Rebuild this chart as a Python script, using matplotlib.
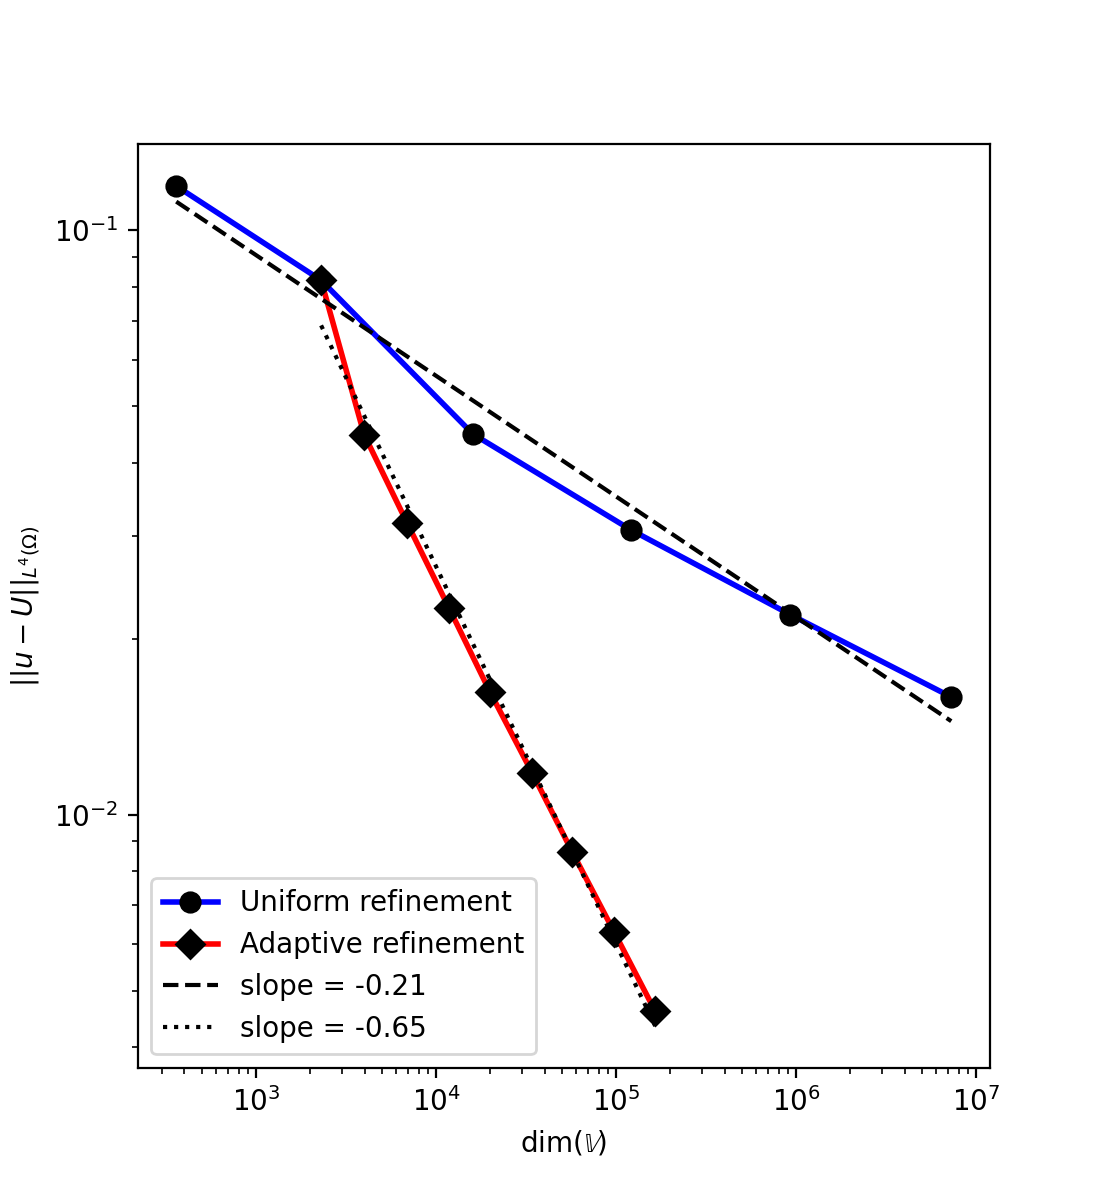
import numpy as np
import matplotlib

matplotlib.use("Agg")
import matplotlib.pyplot as plt

# degrees of freedom and L4 error
dofs_uniform = [360, 2296, 16000, 121000, 926000, 7270000]
err_uniform = [0.119, 0.0821, 0.0448, 0.0307, 0.0220, 0.0159]

dofs_adaptive = [2296, 3981, 6900, 11800, 19950, 34100, 57000, 97500, 164800]
err_adaptive = [0.0821, 0.0447, 0.03155, 0.02256, 0.0162, 0.0118, 0.00864, 0.0063, 0.00461]


def loglog_fit(x, y):
    # least squares line in log-log space
    p = np.polyfit(np.log10(x), np.log10(y), 1)
    return p[0], 10 ** np.polyval(p, np.log10(x))


slope_u, fit_u = loglog_fit(dofs_uniform, err_uniform)
slope_a, fit_a = loglog_fit(dofs_adaptive, err_adaptive)

fig, ax = plt.subplots(figsize=(5.5, 6), dpi=200)
ax.loglog(dofs_uniform, err_uniform, "-o", color="blue", mfc="black", mec="black",
          linewidth=2, markersize=7, label="Uniform refinement")
ax.loglog(dofs_adaptive, err_adaptive, "-D", color="red", mfc="black", mec="black",
          linewidth=2, markersize=7, label="Adaptive refinement")
ax.loglog(dofs_uniform, fit_u, "k--", linewidth=1.5, label="slope = %.2f" % slope_u)
ax.loglog(dofs_adaptive, fit_a, "k:", linewidth=1.5, label="slope = %.2f" % slope_a)

ax.set_xlabel(r"dim($\mathbb{V}$)")
ax.set_ylabel(r"$||u-U||_{L^4(\Omega)}$")
ax.legend(loc="lower left")
plt.savefig("out.png", dpi=200)
